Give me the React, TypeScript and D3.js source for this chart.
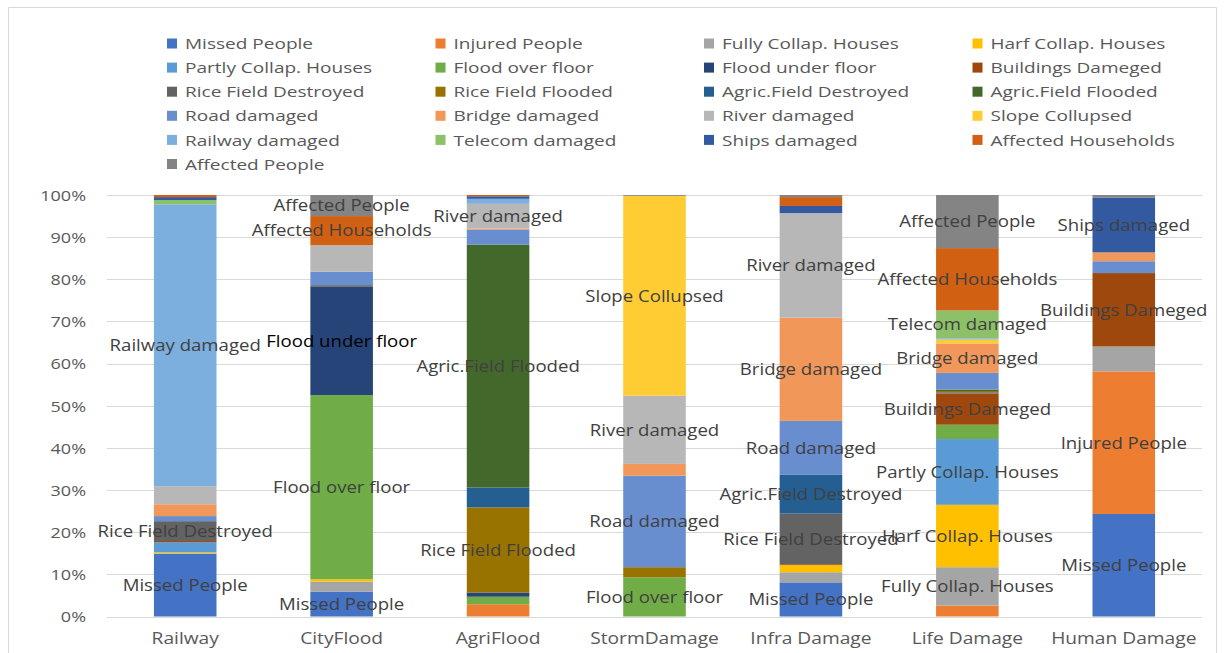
import React from "react";
import * as d3 from "d3";

// Damage categories along the x axis
const categories = [
  "Railway",
  "CityFlood",
  "AgriFlood",
  "StormDamage",
  "Infra Damage",
  "Life Damage",
  "Human Damage",
];

// Series names, in stacking (bottom to top) and legend order
const seriesNames = [
  "Missed People",
  "Injured People",
  "Fully Collap. Houses",
  "Harf Collap. Houses",
  "Partly Collap. Houses",
  "Flood over floor",
  "Flood under floor",
  "Buildings Dameged",
  "Rice Field Destroyed",
  "Rice Field Flooded",
  "Agric.Field Destroyed",
  "Agric.Field Flooded",
  "Road damaged",
  "Bridge damaged",
  "River damaged",
  "Slope Collupsed",
  "Railway damaged",
  "Telecom damaged",
  "Ships damaged",
  "Affected Households",
  "Affected People",
];

// Share (%) of each series per category, same order as `categories`
const missedPeople = [14.9, 5.9, 0, 0, 8.1, 0, 24.3];
const injuredPeople = [0, 0, 2.9, 0, 0, 2.6, 33.8];
const fullyCollapHouses = [0, 2.4, 0, 0, 2.4, 9.1, 5.9];
const harfCollapHouses = [0.3, 0.55, 0, 0, 1.7, 14.8, 0];
const partlyCollapHouses = [2.4, 0, 0, 0, 0, 15.6, 0];
const floodOverFloor = [0, 43.7, 1.8, 9.3, 0, 3.4, 0];
const floodUnderFloor = [0, 25.7, 1.0, 0, 0, 0, 0];
const buildingsDameged = [0.3, 0, 0, 0, 0.2, 7.4, 17.4];
const riceFieldDestroyed = [4.7, 0.4, 0, 0, 12.0, 0.3, 0];
const riceFieldFlooded = [0, 0, 20.2, 2.4, 0, 0.3, 0];
const agricFieldDestroyed = [0, 0, 4.7, 0, 9.2, 0, 0];
const agricFieldFlooded = [0, 0, 57.7, 0, 0, 0.3, 0];
const roadDamaged = [1.2, 3.2, 3.5, 21.7, 12.8, 4.0, 2.8];
const bridgeDamaged = [2.8, 0, 0.25, 2.8, 24.5, 7.0, 2.1];
const riverDamaged = [4.3, 6.3, 5.9, 16.2, 24.8, 0, 0];
const slopeCollupsed = [0, 0, 0, 47.4, 0, 0.9, 0];
const railwayDamaged = [66.8, 0, 1.2, 0, 0, 0.3, 0];
const telecomDamaged = [1.0, 0, 0, 0, 0, 6.6, 0];
const shipsDamaged = [0.7, 0, 0.6, 0, 1.7, 0, 13.0];
const affectedHouseholds = [0.5, 6.9, 0.3, 0, 2.1, 14.8, 0];
const affectedPeople = [0, 5.0, 0, 0.2, 0.5, 12.6, 0.6];

const seriesValues = [
  missedPeople,
  injuredPeople,
  fullyCollapHouses,
  harfCollapHouses,
  partlyCollapHouses,
  floodOverFloor,
  floodUnderFloor,
  buildingsDameged,
  riceFieldDestroyed,
  riceFieldFlooded,
  agricFieldDestroyed,
  agricFieldFlooded,
  roadDamaged,
  bridgeDamaged,
  riverDamaged,
  slopeCollupsed,
  railwayDamaged,
  telecomDamaged,
  shipsDamaged,
  affectedHouseholds,
  affectedPeople,
];

const seriesColors = [
  "#4472C4",
  "#ED7D31",
  "#A5A5A5",
  "#FFC000",
  "#5B9BD5",
  "#70AD47",
  "#264478",
  "#9E480E",
  "#636363",
  "#997300",
  "#255E91",
  "#43682B",
  "#698ED0",
  "#F1975A",
  "#B7B7B7",
  "#FFCD33",
  "#7CAFDD",
  "#8CC168",
  "#335AA1",
  "#D26012",
  "#848484",
];

// Segments that carry a series-name data label: [category, series]
const labelledSegments: [string, string][] = [
  ["Railway", "Missed People"],
  ["Railway", "Rice Field Destroyed"],
  ["Railway", "Railway damaged"],
  ["CityFlood", "Missed People"],
  ["CityFlood", "Flood over floor"],
  ["CityFlood", "Flood under floor"],
  ["CityFlood", "Affected Households"],
  ["CityFlood", "Affected People"],
  ["AgriFlood", "Rice Field Flooded"],
  ["AgriFlood", "Agric.Field Flooded"],
  ["AgriFlood", "River damaged"],
  ["StormDamage", "Flood over floor"],
  ["StormDamage", "Road damaged"],
  ["StormDamage", "River damaged"],
  ["StormDamage", "Slope Collupsed"],
  ["Infra Damage", "Missed People"],
  ["Infra Damage", "Rice Field Destroyed"],
  ["Infra Damage", "Agric.Field Destroyed"],
  ["Infra Damage", "Road damaged"],
  ["Infra Damage", "Bridge damaged"],
  ["Infra Damage", "River damaged"],
  ["Life Damage", "Fully Collap. Houses"],
  ["Life Damage", "Harf Collap. Houses"],
  ["Life Damage", "Partly Collap. Houses"],
  ["Life Damage", "Buildings Dameged"],
  ["Life Damage", "Bridge damaged"],
  ["Life Damage", "Telecom damaged"],
  ["Life Damage", "Affected Households"],
  ["Life Damage", "Affected People"],
  ["Human Damage", "Missed People"],
  ["Human Damage", "Injured People"],
  ["Human Damage", "Buildings Dameged"],
  ["Human Damage", "Ships damaged"],
];

const yTicks = [0, 0.1, 0.2, 0.3, 0.4, 0.5, 0.6, 0.7, 0.8, 0.9, 1];

const FONT = "'Open Sans', 'DejaVu Sans', sans-serif";

export default function App() {
  const width = 1229;
  const height = 653;

  const plotLeft = 107;
  const plotRight = 1202;
  const plotTop = 195;
  const plotBottom = 616.5;

  const x = d3
    .scaleBand<string>()
    .domain(categories)
    .range([plotLeft, plotRight])
    .paddingInner(0.6)
    .paddingOuter(0.3);

  const y = d3.scaleLinear().domain([0, 1]).range([plotBottom, plotTop]);

  const rows = categories.map((c, ci) => {
    const row: Record<string, any> = { category: c };
    seriesNames.forEach((s, si) => (row[s] = seriesValues[si][ci]));
    return row;
  });

  const stacked = d3
    .stack<Record<string, any>>()
    .keys(seriesNames)
    .order(d3.stackOrderNone)
    .offset(d3.stackOffsetExpand)(rows);

  const color = d3.scaleOrdinal<string, string>().domain(seriesNames).range(seriesColors);

  const legendCols = 4;
  const legendX0 = 167;
  const legendColStep = 268.5;
  const legendY0 = 43.5;
  const legendRowStep = 24.1;

  const stretchText = (
    tx: number,
    ty: number,
    content: string,
    opts: { anchor?: string; size?: number; fill?: string; key?: string; stretch?: number }
  ) => (
    <text
      key={opts.key}
      transform={`translate(${tx},${ty}) scale(${opts.stretch ?? 1.2},1)`}
      textAnchor={opts.anchor ?? "start"}
      dominantBaseline="central"
      fontFamily={FONT}
      fontSize={opts.size ?? 15}
      fill={opts.fill ?? "#595959"}
    >
      {content}
    </text>
  );

  return (
    <svg
      width={width}
      height={height}
      style={{ display: "block", position: "absolute", left: 0, top: 0 }}
    >
      <rect x={0} y={0} width={width} height={height} fill="#fff" />
      {/* chart frame */}
      <path
        d={`M8.5,${height} V7.5 H1216.5 V${height}`}
        fill="none"
        stroke="#d9d9d9"
        strokeWidth={1}
      />

      {/* gridlines */}
      {yTicks.map((t) => (
        <line
          key={`g${t}`}
          x1={plotLeft}
          x2={plotRight}
          y1={Math.round(y(t)) + 0.5}
          y2={Math.round(y(t)) + 0.5}
          stroke="#d9d9d9"
          strokeWidth={1}
        />
      ))}

      {/* y tick labels */}
      {yTicks.map((t) =>
        stretchText(86, y(t), d3.format(".0%")(t), { anchor: "end", size: 15, key: `yt${t}` })
      )}

      {/* stacked bars */}
      {stacked.map((layer) => (
        <g key={layer.key} fill={color(layer.key)}>
          {layer.map((d, i) => {
            const h = y(d[0]) - y(d[1]);
            if (h <= 0) return null;
            return (
              <rect
                key={categories[i]}
                x={x(categories[i])}
                y={y(d[1])}
                width={x.bandwidth()}
                height={h}
              />
            );
          })}
        </g>
      ))}

      {/* data labels */}
      {labelledSegments.map(([cat, ser]) => {
        const layer = stacked.find((l) => l.key === ser)!;
        const seg = layer[categories.indexOf(cat)];
        const cx = (x(cat) ?? 0) + x.bandwidth() / 2;
        const cy = y((seg[0] + seg[1]) / 2);
        return stretchText(cx, cy, ser, {
          anchor: "middle",
          size: 15.5,
          fill: ser === "Flood under floor" ? "#000" : "#404040",
          key: `${cat}-${ser}`,
        });
      })}

      {/* category labels */}
      {categories.map((c) =>
        stretchText((x(c) ?? 0) + x.bandwidth() / 2, 638, c, {
          anchor: "middle",
          size: 16,
          key: `c${c}`,
        })
      )}

      {/* legend */}
      {seriesNames.map((s, i) => {
        const col = i % legendCols;
        const row = Math.floor(i / legendCols);
        const lx = legendX0 + col * legendColStep;
        const ly = legendY0 + row * legendRowStep;
        return (
          <g key={`l${s}`}>
            <rect x={lx} y={ly - 5} width={10} height={10} fill={color(s)} />
            {stretchText(lx + 18, ly, s, { size: 15, stretch: 1.27 })}
          </g>
        );
      })}
    </svg>
  );
}
